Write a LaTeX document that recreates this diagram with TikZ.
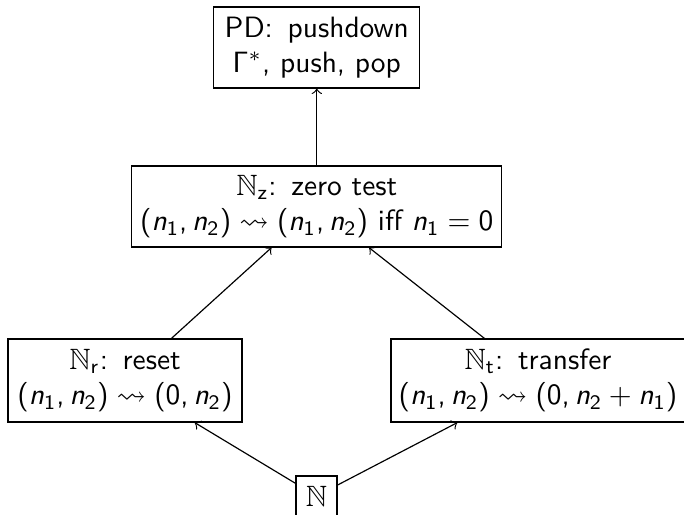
\documentclass[tikz,border=0pt]{standalone}
\usepackage{amssymb}
\DeclareSymbolFont{sfop}{OT1}{cmss}{m}{n}
\DeclareSymbolFont{sfit}{OT1}{cmss}{m}{sl}
\SetSymbolFont{operators}{normal}{OT1}{cmss}{m}{n}
\DeclareMathSymbol{n}{\mathalpha}{sfit}{`n}
\DeclareMathSymbol{,}{\mathpunct}{sfop}{`,}
\begin{document}
\begin{tikzpicture}[x=0.34pt,y=-0.34pt,
  box/.style={draw, line width=0.4pt, inner sep=0pt, align=center,
    font=\sffamily},
  link/.style={->, line width=0.4pt}]
\useasboundingbox (0,0) rectangle (684,514);
\node[box, minimum width=206*0.34pt, minimum height=81*0.34pt] (pd) at (316.8,47.5)
  {PD:\enspace pushdown\\ $\Gamma^*$, push, pop};
\node[box, minimum width=370*0.34pt, minimum height=81*0.34pt] (z) at (316.8,206.5)
  {$\mathbb{N}_{\mathsf{z}}$:\enspace zero test\\ $(n_1,n_2)\leadsto(n_1,n_2)$ iff $n_1=0$};
\node[box, minimum width=234*0.34pt, minimum height=83*0.34pt] (r) at (125,380.5)
  {$\mathbb{N}_{\mathsf{r}}$:\enspace reset\\ $(n_1,n_2)\leadsto(0,n_2)$};
\node[box, minimum width=294*0.34pt, minimum height=83*0.34pt] (t) at (538,380.5)
  {$\mathbb{N}_{\mathsf{t}}$:\enspace transfer\\ $(n_1,n_2)\leadsto(0,n_2+n_1)$};
\node[box, minimum width=41*0.34pt, minimum height=40*0.34pt] (n) at (316.5,496)
  {$\mathbb{N}$};
\draw[link] (z) -- (pd);
\draw[link] (r) -- (z);
\draw[link] (t) -- (z);
\draw[link] (n) -- (r);
\draw[link] (n) -- (t);
\end{tikzpicture}
\end{document}
